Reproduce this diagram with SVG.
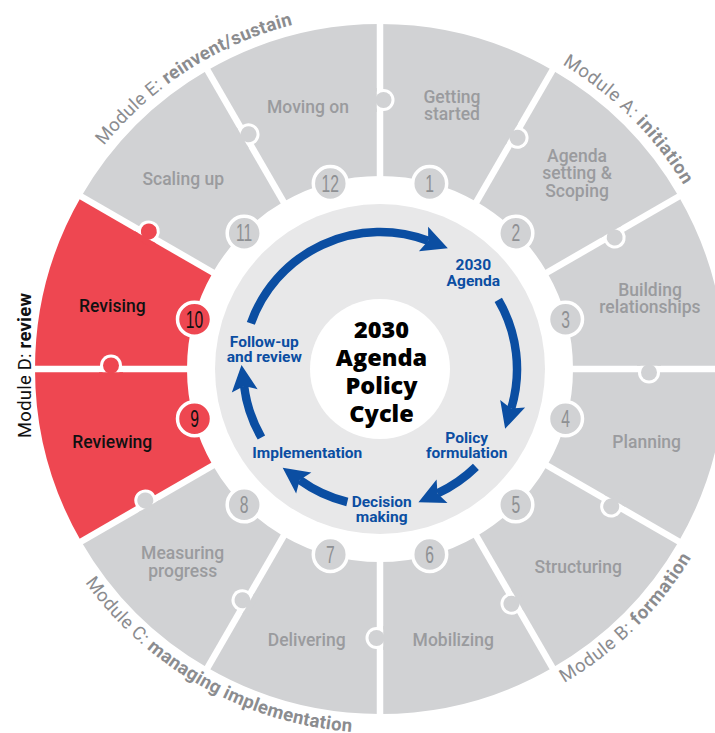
<svg xmlns="http://www.w3.org/2000/svg" xmlns:xlink="http://www.w3.org/1999/xlink" width="715" height="733" viewBox="0 0 715 733">
  <style>
    .seg { fill: #d1d2d4; }
    .seg.red { fill: #ee4751; }
    .sep { stroke: #ffffff; stroke-width: 6.5; }
    .num circle { fill: #d1d2d4; stroke: #ffffff; stroke-width: 3.5; }
    .num.red circle { fill: #ee4751; }
    .num text { font-family: "Liberation Sans", Arial, sans-serif; font-size: 23px; fill: #8e9093; text-anchor: middle; }
    .num.red text { fill: #111111; }
    .lbl { font-family: Roboto, "Liberation Sans", sans-serif; font-weight: 500; font-size: 17.5px; fill: #9a9b9e; text-anchor: middle; }
    .lbl.dark { fill: #111111; }
    .stage { font-family: Roboto, "Liberation Sans", sans-serif; font-weight: 700; font-size: 15.5px; fill: #0b4ea2; text-anchor: middle; }
    .title { font-family: "Open Sans", "Liberation Sans", sans-serif; font-weight: 800; font-size: 23.5px; fill: #000000; text-anchor: middle; }
    .mod { font-family: Roboto, "Liberation Sans", sans-serif; font-weight: 400; font-size: 18.5px; fill: #8b8c8f; }
    .mod.dark { fill: #111111; }
    .b { font-weight: 700; }
    .arrow { fill: none; stroke: #0b4ea2; stroke-width: 8.5; marker-end: url(#head); }
  </style>
  <defs>
    <marker id="head" markerUnits="userSpaceOnUse" viewBox="0 -14 28 28" markerWidth="28" markerHeight="28" refX="5" refY="0" orient="auto" overflow="visible">
      <path d="M0,-13 L26,0 L0,13 L5,0 Z" fill="#0b4ea2"/>
    </marker>
    <!-- radial divider between two segments, drawn for the 0° boundary -->
    <line id="sep" class="sep" x1="380" y1="181" x2="380" y2="19"/>
    <!-- puzzle tab: belongs to the segment before the boundary, pokes into the next one -->
    <g id="knob">
      <circle cx="383.5" cy="100" r="11" fill="#ffffff"/>
      <rect x="371" y="88" width="5.75" height="24" fill="currentColor"/>
      <circle cx="383.5" cy="100" r="8" fill="currentColor"/>
    </g>
    <path id="arcE" d="M41.15,263.14 A355,355 0 0 1 425.4,16.9"/>
    <path id="arcA" d="M410,15.3 A355,355 0 0 1 733.6,337.1"/>
    <path id="arcB" d="M409.19,731.83 A364,364 0 0 0 742.38,403.26"/>
    <path id="arcC" d="M39.5,497.66 A364,364 0 0 0 447.58,726.67"/>
  </defs>

  <!-- hub -->
  <g id="hub">
    <circle cx="380" cy="369" r="165" fill="#e8e8e9"/>
    <circle cx="380" cy="369" r="70" fill="#ffffff"/>
    <text class="title" x="381.5" y="337.7">2030</text>
    <text class="title" x="381.5" y="365.7">Agenda</text>
    <text class="title" x="381.5" y="394.3">Policy</text>
    <text class="title" x="381.5" y="421.7">Cycle</text>
  </g>

  <!-- twelve steps of the wheel -->
  <g id="step-1">
    <path class="seg" d="M380,24 A345,345 0 0 1 552.5,70.23 L476.5,201.86 A193,193 0 0 0 380,176 Z"/>
    <text class="lbl" x="452" y="102.5">Getting</text>
    <text class="lbl" x="452" y="120">started</text>
    <g class="num"><circle cx="429.7" cy="183.5" r="17"/><text transform="translate(429.7,183.5) scale(0.68,1)" y="8.2">1</text></g>
  </g>
  <g id="step-2">
    <path class="seg" d="M552.5,70.23 A345,345 0 0 1 678.77,196.5 L547.14,272.5 A193,193 0 0 0 476.5,201.86 Z"/>
    <text class="lbl" x="577" y="161.5">Agenda</text>
    <text class="lbl" x="577" y="179">setting &amp;</text>
    <text class="lbl" x="577" y="196.5">Scoping</text>
    <g class="num"><circle cx="515.8" cy="233.2" r="17"/><text transform="translate(515.8,233.2) scale(0.68,1)" y="8.2">2</text></g>
  </g>
  <g id="step-3">
    <path class="seg" d="M678.77,196.5 A345,345 0 0 1 725,369 L573,369 A193,193 0 0 0 547.14,272.5 Z"/>
    <text class="lbl" x="650" y="296">Building</text>
    <text class="lbl" x="650" y="313.3">relationships</text>
    <g class="num"><circle cx="565.5" cy="319.3" r="17"/><text transform="translate(565.5,319.3) scale(0.68,1)" y="8.2">3</text></g>
  </g>
  <g id="step-4">
    <path class="seg" d="M725,369 A345,345 0 0 1 678.77,541.5 L547.14,465.5 A193,193 0 0 0 573,369 Z"/>
    <text class="lbl" x="646.7" y="448.3">Planning</text>
    <g class="num"><circle cx="565.5" cy="418.7" r="17"/><text transform="translate(565.5,418.7) scale(0.68,1)" y="8.2">4</text></g>
  </g>
  <g id="step-5">
    <path class="seg" d="M678.77,541.5 A345,345 0 0 1 552.5,667.77 L476.5,536.14 A193,193 0 0 0 547.14,465.5 Z"/>
    <text class="lbl" x="578.3" y="573.3">Structuring</text>
    <g class="num"><circle cx="515.8" cy="504.8" r="17"/><text transform="translate(515.8,504.8) scale(0.68,1)" y="8.2">5</text></g>
  </g>
  <g id="step-6">
    <path class="seg" d="M552.5,667.77 A345,345 0 0 1 380,714 L380,562 A193,193 0 0 0 476.5,536.14 Z"/>
    <text class="lbl" x="453.3" y="645.7">Mobilizing</text>
    <g class="num"><circle cx="429.7" cy="554.5" r="17"/><text transform="translate(429.7,554.5) scale(0.68,1)" y="8.2">6</text></g>
  </g>
  <g id="step-7">
    <path class="seg" d="M380,714 A345,345 0 0 1 207.5,667.77 L283.5,536.14 A193,193 0 0 0 380,562 Z"/>
    <text class="lbl" x="306.7" y="646">Delivering</text>
    <g class="num"><circle cx="330.3" cy="554.5" r="17"/><text transform="translate(330.3,554.5) scale(0.68,1)" y="8.2">7</text></g>
  </g>
  <g id="step-8">
    <path class="seg" d="M207.5,667.77 A345,345 0 0 1 81.23,541.5 L212.86,465.5 A193,193 0 0 0 283.5,536.14 Z"/>
    <text class="lbl" x="182.7" y="559.3">Measuring</text>
    <text class="lbl" x="182.7" y="576.7">progress</text>
    <g class="num"><circle cx="244.2" cy="504.8" r="17"/><text transform="translate(244.2,504.8) scale(0.68,1)" y="8.2">8</text></g>
  </g>
  <g id="step-9">
    <path class="seg red" d="M81.23,541.5 A345,345 0 0 1 35,369 L187,369 A193,193 0 0 0 212.86,465.5 Z"/>
    <text class="lbl dark" x="112.3" y="448.3">Reviewing</text>
    <g class="num red"><circle cx="194.5" cy="418.7" r="17"/><text transform="translate(194.5,418.7) scale(0.68,1)" y="8.2">9</text></g>
  </g>
  <g id="step-10">
    <path class="seg red" d="M35,369 A345,345 0 0 1 81.23,196.5 L212.86,272.5 A193,193 0 0 0 187,369 Z"/>
    <text class="lbl dark" x="112.3" y="311.7">Revising</text>
    <g class="num red"><circle cx="194.5" cy="319.3" r="17"/><text transform="translate(194.5,319.3) scale(0.68,1)" y="8.2">10</text></g>
  </g>
  <g id="step-11">
    <path class="seg" d="M81.23,196.5 A345,345 0 0 1 207.5,70.23 L283.5,201.86 A193,193 0 0 0 212.86,272.5 Z"/>
    <text class="lbl" x="183.3" y="185">Scaling up</text>
    <g class="num"><circle cx="244.2" cy="233.2" r="17"/><text transform="translate(244.2,233.2) scale(0.68,1)" y="8.2">11</text></g>
  </g>
  <g id="step-12">
    <path class="seg" d="M207.5,70.23 A345,345 0 0 1 380,24 L380,176 A193,193 0 0 0 283.5,201.86 Z"/>
    <text class="lbl" x="308" y="112.7">Moving on</text>
    <g class="num"><circle cx="330.3" cy="183.5" r="17"/><text transform="translate(330.3,183.5) scale(0.68,1)" y="8.2">12</text></g>
  </g>

  <!-- dividers and puzzle tabs between the steps -->
  <g id="joints">
    <use xlink:href="#sep" href="#sep"/>
    <use xlink:href="#sep" href="#sep" transform="rotate(30 380 369)"/>
    <use xlink:href="#sep" href="#sep" transform="rotate(60 380 369)"/>
    <use xlink:href="#sep" href="#sep" transform="rotate(90 380 369)"/>
    <use xlink:href="#sep" href="#sep" transform="rotate(120 380 369)"/>
    <use xlink:href="#sep" href="#sep" transform="rotate(150 380 369)"/>
    <use xlink:href="#sep" href="#sep" transform="rotate(180 380 369)"/>
    <use xlink:href="#sep" href="#sep" transform="rotate(210 380 369)"/>
    <use xlink:href="#sep" href="#sep" transform="rotate(240 380 369)"/>
    <use xlink:href="#sep" href="#sep" transform="rotate(270 380 369)"/>
    <use xlink:href="#sep" href="#sep" transform="rotate(300 380 369)"/>
    <use xlink:href="#sep" href="#sep" transform="rotate(330 380 369)"/>
    <use xlink:href="#knob" href="#knob" style="color:#d1d2d4"/>
    <use xlink:href="#knob" href="#knob" style="color:#d1d2d4" transform="rotate(30 380 369)"/>
    <use xlink:href="#knob" href="#knob" style="color:#d1d2d4" transform="rotate(60 380 369)"/>
    <use xlink:href="#knob" href="#knob" style="color:#d1d2d4" transform="rotate(90 380 369)"/>
    <use xlink:href="#knob" href="#knob" style="color:#d1d2d4" transform="rotate(120 380 369)"/>
    <use xlink:href="#knob" href="#knob" style="color:#d1d2d4" transform="rotate(150 380 369)"/>
    <use xlink:href="#knob" href="#knob" style="color:#d1d2d4" transform="rotate(180 380 369)"/>
    <use xlink:href="#knob" href="#knob" style="color:#d1d2d4" transform="rotate(210 380 369)"/>
    <use xlink:href="#knob" href="#knob" style="color:#d1d2d4" transform="rotate(240 380 369)"/>
    <use xlink:href="#knob" href="#knob" style="color:#ee4751" transform="rotate(270 380 369)"/>
    <use xlink:href="#knob" href="#knob" style="color:#ee4751" transform="rotate(300 380 369)"/>
    <use xlink:href="#knob" href="#knob" style="color:#d1d2d4" transform="rotate(330 380 369)"/>
  </g>

  <!-- module names around the rim -->
  <g id="modules">
    <text class="mod"><textPath xlink:href="#arcE" href="#arcE" startOffset="50%" text-anchor="middle" textLength="228" lengthAdjust="spacing">Module E: <tspan class="b">reinvent/sustain</tspan></textPath></text>
    <text class="mod"><textPath xlink:href="#arcA" href="#arcA" startOffset="50%" text-anchor="middle" textLength="173" lengthAdjust="spacing">Module A: <tspan class="b">initiation</tspan></textPath></text>
    <text class="mod"><textPath xlink:href="#arcB" href="#arcB" startOffset="50%" text-anchor="middle" textLength="180" lengthAdjust="spacing">Module B: <tspan class="b">formation</tspan></textPath></text>
    <text class="mod"><textPath xlink:href="#arcC" href="#arcC" startOffset="50%" text-anchor="middle" textLength="315" lengthAdjust="spacing">Module C: <tspan class="b">managing implementation</tspan></textPath></text>
    <text class="mod dark" transform="translate(31,365.5) rotate(-90)" text-anchor="middle" textLength="145" lengthAdjust="spacing">Module D: <tspan class="b">review</tspan></text>
  </g>

  <!-- stages of the policy cycle -->
  <g id="stage-agenda"><text class="stage" x="473.3" y="270">2030</text><text class="stage" x="473.3" y="285.5">Agenda</text></g>
  <g id="stage-formulation"><text class="stage" x="466.7" y="442.7">Policy</text><text class="stage" x="466.7" y="458.3">formulation</text></g>
  <g id="stage-decision"><text class="stage" x="381.7" y="506.7">Decision</text><text class="stage" x="381.7" y="521.7">making</text></g>
  <g id="stage-implementation"><text class="stage" x="307.3" y="458.3">Implementation</text></g>
  <g id="stage-review"><text class="stage" x="264.3" y="346.7">Follow-up</text><text class="stage" x="264.3" y="361.7">and review</text></g>

  <!-- cycle arrows -->
  <g id="connectors">
    <path class="arrow" d="M250.85,323.32 A137,137 0 0 1 428.2,240.8"/>
    <path class="arrow" d="M498.3,299.9 A137,137 0 0 1 511.2,408.6"/>
    <path class="arrow" d="M475.9,466.9 A137,137 0 0 1 437.5,493.4"/>
    <path class="arrow" d="M347.3,502 A137,137 0 0 1 299.7,480"/>
    <path class="arrow" d="M261.4,437.5 A137,137 0 0 1 244.1,385.9"/>
  </g>
</svg>
